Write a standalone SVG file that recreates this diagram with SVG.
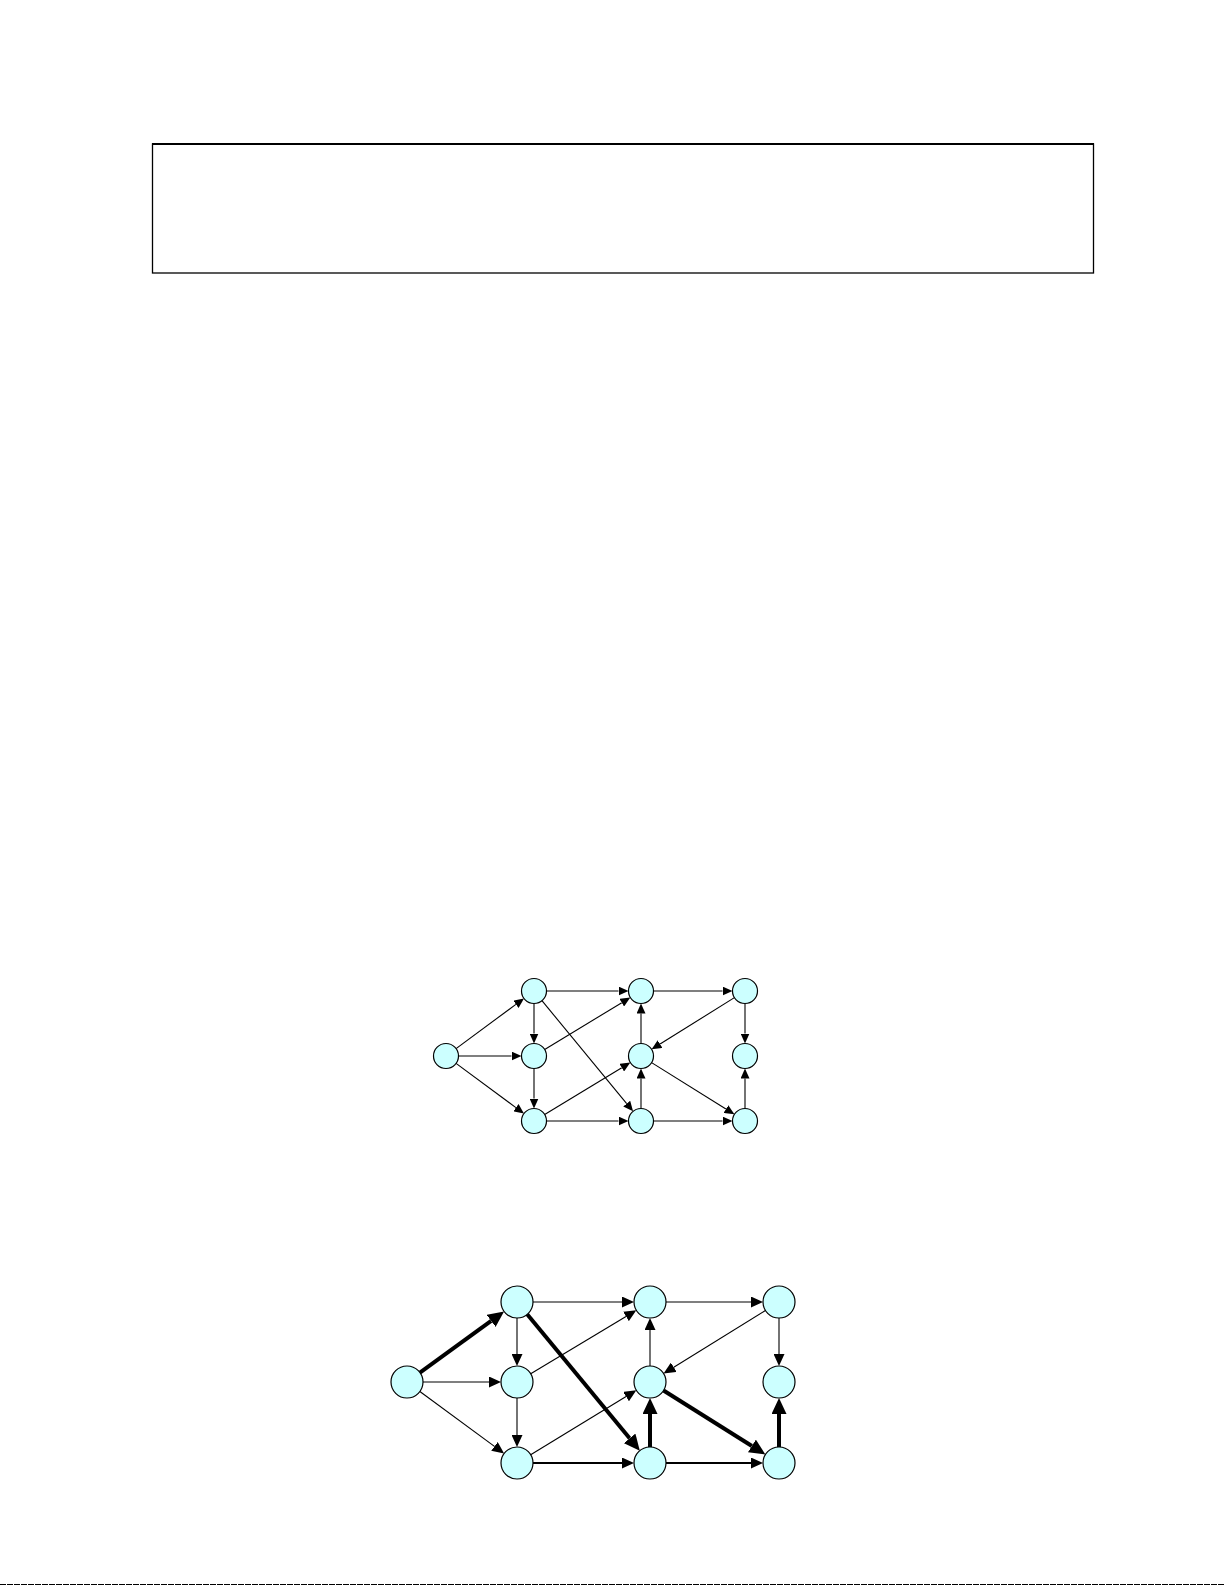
<svg xmlns="http://www.w3.org/2000/svg" width="1225" height="1585" viewBox="0 0 1225 1585">
<style>
.node{fill:#CCFFFF;stroke:#000;stroke-width:1.2}
.e1{stroke:#000;stroke-width:1.1;fill:none;marker-end:url(#a1)}
.e2{stroke:#000;stroke-width:1.1;fill:none;marker-end:url(#a2)}
.em{stroke:#000;stroke-width:1.9;fill:none;marker-end:url(#a2)}
.et{stroke:#000;stroke-width:4;fill:none;marker-end:url(#a3)}
</style>
<defs>
<marker id="a1" markerUnits="userSpaceOnUse" viewBox="0 -4.5 10 9" markerWidth="10" markerHeight="9" refX="0" refY="0" orient="auto"><path d="M0,-4.5 L10,0 L0,4.5 z" fill="#000"/></marker>
<marker id="a2" markerUnits="userSpaceOnUse" viewBox="0 -5.5 12 11" markerWidth="12" markerHeight="11" refX="0" refY="0" orient="auto"><path d="M0,-5.5 L12,0 L0,5.5 z" fill="#000"/></marker>
<marker id="a3" markerUnits="userSpaceOnUse" viewBox="0 -7.5 16 15" markerWidth="16" markerHeight="15" refX="0" refY="0" orient="auto"><path d="M0,-7.5 L16,0 L0,7.5 z" fill="#000"/></marker>
</defs>
<rect width="1225" height="1585" fill="#fff"/>
<g id="frame">
<rect x="152.5" y="144" width="941" height="129" fill="none" stroke="#000" stroke-width="1.3"/>
<line x1="152" y1="144" x2="1094" y2="144" stroke="#000" stroke-width="2.2"/>
<line x1="0" y1="1584.5" x2="1225" y2="1584.5" stroke="#000" stroke-width="1" stroke-dasharray="6 1"/>
</g>
<g id="connectors1">
<line class="e1" x1="456.05" y1="1048.57" x2="515.91" y2="1004.37"/>
<line class="e1" x1="458.5" y1="1056" x2="511.5" y2="1056"/>
<line class="e1" x1="456.05" y1="1063.43" x2="515.91" y2="1107.63"/>
<line class="e1" x1="534" y1="1003.5" x2="534" y2="1033.5"/>
<line class="e1" x1="546.5" y1="991" x2="618.5" y2="991"/>
<line class="e1" x1="541.94" y1="1000.65" x2="626.7" y2="1103.63"/>
<line class="e1" x1="544.68" y1="1049.51" x2="621.77" y2="1002.68"/>
<line class="e1" x1="534" y1="1068.5" x2="534" y2="1098.5"/>
<line class="e1" x1="544.68" y1="1114.51" x2="621.77" y2="1067.68"/>
<line class="e1" x1="546.5" y1="1121" x2="618.5" y2="1121"/>
<line class="e1" x1="653.5" y1="991" x2="722.5" y2="991"/>
<line class="e1" x1="641" y1="1043.5" x2="641" y2="1013.5"/>
<line class="e1" x1="641" y1="1108.5" x2="641" y2="1078.5"/>
<line class="e1" x1="734.4" y1="997.63" x2="660.08" y2="1044.07"/>
<line class="e1" x1="745" y1="1003.5" x2="745" y2="1033.5"/>
<line class="e1" x1="651.6" y1="1062.63" x2="725.92" y2="1109.07"/>
<line class="e1" x1="653.5" y1="1121" x2="722.5" y2="1121"/>
<line class="e1" x1="745" y1="1108.5" x2="745" y2="1078.5"/>
</g>
<g id="g1-A"><circle class="node" cx="446" cy="1056" r="12.5"/></g>
<g id="g1-B"><circle class="node" cx="534" cy="991" r="12.5"/></g>
<g id="g1-C"><circle class="node" cx="534" cy="1056" r="12.5"/></g>
<g id="g1-D"><circle class="node" cx="534" cy="1121" r="12.5"/></g>
<g id="g1-E"><circle class="node" cx="641" cy="991" r="12.5"/></g>
<g id="g1-F"><circle class="node" cx="641" cy="1056" r="12.5"/></g>
<g id="g1-G"><circle class="node" cx="641" cy="1121" r="12.5"/></g>
<g id="g1-H"><circle class="node" cx="745" cy="991" r="12.5"/></g>
<g id="g1-I"><circle class="node" cx="745" cy="1056" r="12.5"/></g>
<g id="g1-J"><circle class="node" cx="745" cy="1121" r="12.5"/></g>
<g id="connectors2">
<line class="et" x1="419.94" y1="1372.59" x2="491.12" y2="1320.82"/>
<line class="e2" x1="423" y1="1382" x2="489" y2="1382"/>
<line class="e2" x1="419.88" y1="1391.49" x2="494.45" y2="1446.4"/>
<line class="e2" x1="517" y1="1318" x2="517" y2="1354"/>
<line class="e2" x1="533" y1="1302" x2="622" y2="1302"/>
<line class="et" x1="527.19" y1="1314.34" x2="629.62" y2="1438.33"/>
<line class="e2" x1="530.71" y1="1373.75" x2="626.01" y2="1316.43"/>
<line class="e2" x1="517" y1="1398" x2="517" y2="1435"/>
<line class="e2" x1="530.67" y1="1454.68" x2="626.09" y2="1396.57"/>
<line class="em" x1="533" y1="1463" x2="622" y2="1463"/>
<line class="e2" x1="666" y1="1302" x2="751" y2="1302"/>
<line class="e2" x1="650" y1="1366" x2="650" y2="1330"/>
<line class="et" x1="650" y1="1447" x2="650" y2="1414"/>
<line class="e2" x1="765.4" y1="1310.43" x2="673.79" y2="1367.24"/>
<line class="e2" x1="779" y1="1318" x2="779" y2="1354"/>
<line class="et" x1="663.55" y1="1390.51" x2="751.9" y2="1445.98"/>
<line class="em" x1="666" y1="1463" x2="751" y2="1463"/>
<line class="et" x1="779" y1="1447" x2="779" y2="1414"/>
</g>
<g id="g2-A"><circle class="node" cx="407" cy="1382" r="16"/></g>
<g id="g2-B"><circle class="node" cx="517" cy="1302" r="16"/></g>
<g id="g2-C"><circle class="node" cx="517" cy="1382" r="16"/></g>
<g id="g2-D"><circle class="node" cx="517" cy="1463" r="16"/></g>
<g id="g2-E"><circle class="node" cx="650" cy="1302" r="16"/></g>
<g id="g2-F"><circle class="node" cx="650" cy="1382" r="16"/></g>
<g id="g2-G"><circle class="node" cx="650" cy="1463" r="16"/></g>
<g id="g2-H"><circle class="node" cx="779" cy="1302" r="16"/></g>
<g id="g2-I"><circle class="node" cx="779" cy="1382" r="16"/></g>
<g id="g2-J"><circle class="node" cx="779" cy="1463" r="16"/></g>
</svg>
